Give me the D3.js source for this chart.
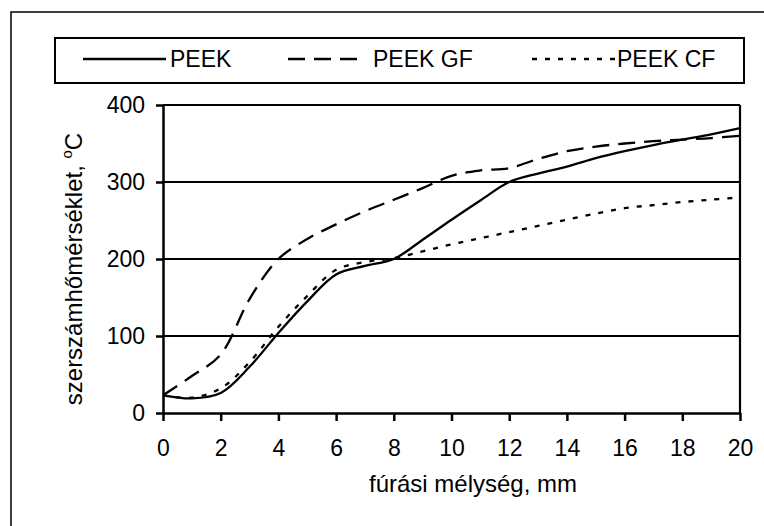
<!DOCTYPE html>
<html lang="hu">
<head>
  <meta charset="UTF-8" />
  <title>Szerszámhőmérséklet</title>
  <script src="https://d3js.org/d3.v7.min.js"></script>
  <style>
    body {
      margin: 0;
      background: #fff;
    }
    svg text {
      font-family: 'Liberation Sans', Arial, sans-serif;
      fill: #000;
    }
  </style>
</head>
<body>
  <svg id="chart" width="764" height="526"></svg>

  <script>
    // furasi melyseg (mm) and measured tool temperature (°C)
    const depth = [0,1,2,3,4,5,6,7,8,9,10,11,12,13,14,15,16,17,18,19,20];
    const peek   = [23,19,26,60,104,145,180,191,200,225,251,276,300,311,320,331,340,348,355,362,370];
    const peekGF = [23,48,76,148,200,226,245,262,277,292,308,315,318,330,340,346,350,353,355,357,360];
    const peekCF = [23,20,32,66,112,152,186,196,201,210,219,227,235,243,251,259,266,270,274,277,280];
    const xTicks = [0,2,4,6,8,10,12,14,16,18,20];
    const yTicks = [0,100,200,300,400];

    const series = [
      {name: "PEEK",    values: peek,   dash: null},
      {name: "PEEK GF", values: peekGF, dash: "17,9"},
      {name: "PEEK CF", values: peekCF, dash: "5,8"}
    ];

    const svg = d3.select("#chart");
    const margin = {top: 105, right: 24, bottom: 113, left: 163},
          width = +svg.attr("width") - margin.left - margin.right,
          height = +svg.attr("height") - margin.top - margin.bottom;

    // outer frame (cut off at right and bottom)
    svg.append("rect")
      .attr("x", 11).attr("y", 12)
      .attr("width", 800).attr("height", 600)
      .attr("fill", "none").attr("stroke", "#000").attr("stroke-width", 1.5);

    const g = svg.append("g").attr("transform", `translate(${margin.left},${margin.top})`);
    const x = d3.scaleLinear().domain([0, 20]).range([0, width]);
    const y = d3.scaleLinear().domain([0, 400]).range([height, 0]);

    // gridlines
    g.selectAll(".grid")
      .data(yTicks.filter(d => d > 0))
      .enter().append("line")
      .attr("x1", 0).attr("x2", width)
      .attr("y1", d => y(d)).attr("y2", d => y(d))
      .attr("stroke", "#000").attr("stroke-width", 2.2);
    g.append("line")
      .attr("x1", width).attr("x2", width)
      .attr("y1", 0).attr("y2", height)
      .attr("stroke", "#000").attr("stroke-width", 2.2);

    const xAxis = g.append("g")
      .attr("transform", `translate(0,${height})`)
      .call(d3.axisBottom(x).tickValues(xTicks).tickSize(8).tickSizeOuter(0).tickPadding(19));
    const yAxis = g.append("g")
      .call(d3.axisLeft(y).tickValues(yTicks).tickSize(7).tickSizeOuter(0).tickPadding(11));
    [xAxis, yAxis].forEach(a => {
      a.selectAll("path, line").attr("stroke", "#000").attr("stroke-width", 2.5);
      a.selectAll("text").attr("font-size", 23).attr("font-family", null).attr("fill", "#000");
    });

    // axis titles
    svg.append("text")
      .attr("x", 473).attr("y", 492)
      .attr("text-anchor", "middle")
      .attr("font-size", 24)
      .text("fúrási mélység, mm");
    const yt = svg.append("text")
      .attr("transform", "translate(82,269) rotate(-90)")
      .attr("text-anchor", "middle")
      .attr("font-size", 24);
    yt.append("tspan").text("szerszámhőmérséklet, ");
    yt.append("tspan").attr("font-size", 15).attr("dy", -10).text("o");
    yt.append("tspan").attr("dy", 10).text("C");

    // curves
    const line = d3.line()
      .x((d, i) => x(depth[i]))
      .y(d => y(d))
      .curve(d3.curveCatmullRom.alpha(0.5));
    g.selectAll(".series")
      .data(series)
      .enter().append("path")
      .attr("d", d => line(d.values))
      .attr("fill", "none")
      .attr("stroke", "#000")
      .attr("stroke-width", 2.3)
      .attr("stroke-dasharray", d => d.dash);

    // legend
    svg.append("rect")
      .attr("x", 55).attr("y", 38)
      .attr("width", 689).attr("height", 45)
      .attr("fill", "#fff").attr("stroke", "#000").attr("stroke-width", 2);
    const legendX = [{x1: 83, x2: 166, tx: 170}, {x1: 288, x2: 364, tx: 373}, {x1: 532, x2: 616, tx: 617}];
    const lg = svg.selectAll(".legend")
      .data(series)
      .enter().append("g");
    lg.append("line")
      .attr("x1", (d, i) => legendX[i].x1).attr("x2", (d, i) => legendX[i].x2)
      .attr("y1", 59).attr("y2", 59)
      .attr("stroke", "#000").attr("stroke-width", 2.3)
      .attr("stroke-dasharray", d => d.dash);
    lg.append("text")
      .attr("x", (d, i) => legendX[i].tx).attr("y", 67)
      .attr("font-size", 23)
      .text(d => d.name);
  </script>
</body>
</html>
